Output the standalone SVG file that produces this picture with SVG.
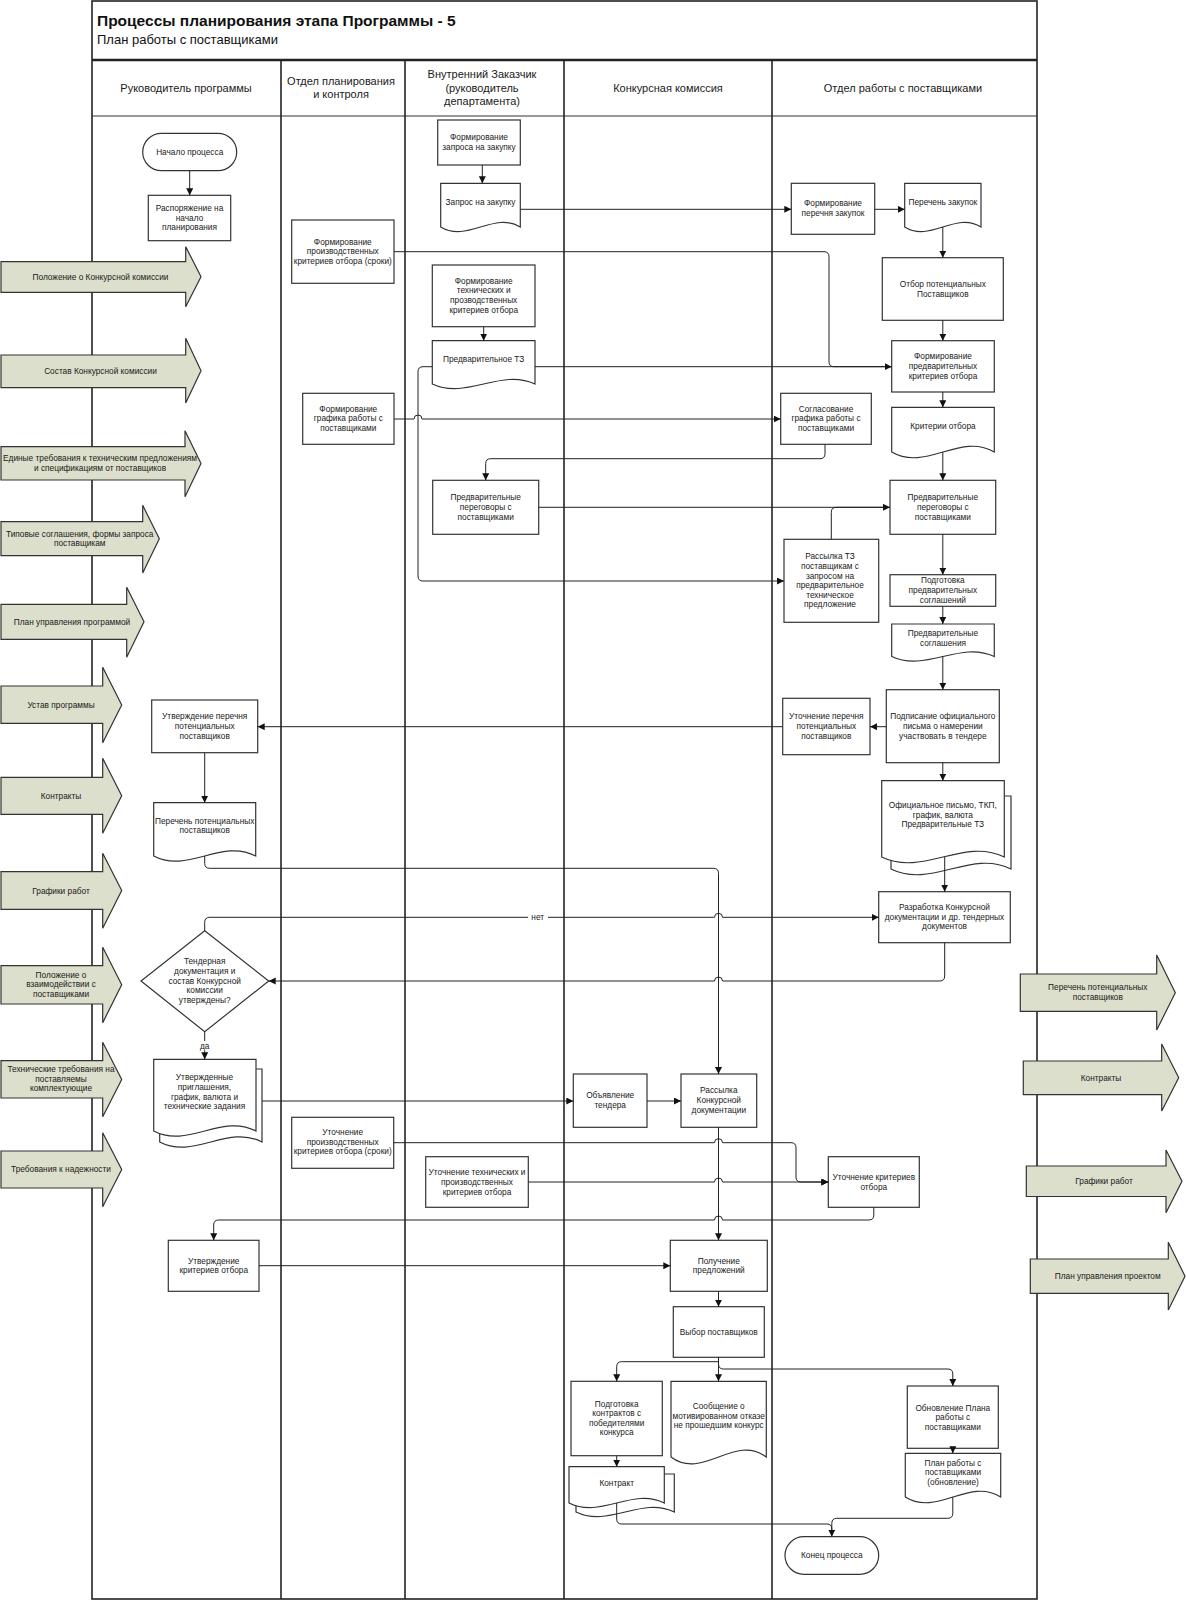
<svg xmlns="http://www.w3.org/2000/svg" width="1186" height="1600" viewBox="0 0 1186 1600">
<style>
.box{fill:#fff;stroke:#333;stroke-width:1.2}
.io{fill:#dcdfcb;stroke:#333;stroke-width:1.2}
.c{fill:none;stroke:#222;stroke-width:1}
.a{marker-end:url(#ah)}
.t{font-family:"Liberation Sans",Arial,sans-serif;font-size:8.3px;fill:#1a1a1a;text-anchor:middle;dominant-baseline:central}
.h{font-size:11px}
.ln{stroke:#222;stroke-width:1.6;fill:none}
.lbl{fill:#fff;stroke:none}
</style>
<defs>
<marker id="ah" markerWidth="8" markerHeight="8" refX="7" refY="3.5" orient="auto" markerUnits="userSpaceOnUse"><path d="M0,0 L7,3.5 L0,7 z" fill="#111"/></marker>
</defs>
<rect width="1186" height="1600" fill="#fff"/>

<g id="lanes">
<rect x="92" y="1" width="945" height="1598" class="ln"/>
<line x1="92" y1="60" x2="1037" y2="60" stroke="#222" stroke-width="2.5"/>
<line x1="92" y1="116" x2="1037" y2="116" stroke="#333" stroke-width="1"/>
<line x1="281" y1="60" x2="281" y2="1599" class="ln"/>
<line x1="405" y1="60" x2="405" y2="1599" class="ln"/>
<line x1="564" y1="60" x2="564" y2="1599" class="ln"/>
<line x1="772" y1="60" x2="772" y2="1599" class="ln"/>
<text x="97" y="26" font-family="Liberation Sans, Arial, sans-serif" font-size="15.5" font-weight="bold" fill="#111">Процессы планирования этапа Программы - 5</text>
<text x="97" y="44.3" font-family="Liberation Sans, Arial, sans-serif" font-size="13" fill="#111">План работы с поставщиками</text>
<text class="t h" x="186" y="87.7">Руководитель программы</text>
<text class="t h"><tspan x="341" y="81">Отдел планирования</tspan><tspan x="341" y="94">и контроля</tspan></text>
<text class="t h"><tspan x="482" y="74">Внутренний Заказчик</tspan><tspan x="482" y="87.7">(руководитель</tspan><tspan x="482" y="100.7">департамента)</tspan></text>
<text class="t h" x="668" y="87.7">Конкурсная комиссия</text>
<text class="t h" x="903" y="87.7">Отдел работы с поставщиками</text>
</g>

<g id="nodes">
<g id="n-start"><rect class="box" x="142.7" y="133.3" width="94" height="37.4" rx="18.7"/><text class="t" x="189.7" y="151.7">Начало процесса</text></g>
<g id="n-rasp"><rect class="box" x="148.3" y="195.3" width="82.4" height="45.4"/><text class="t"><tspan x="189.5" y="207.7">Распоряжение на</tspan><tspan x="189.5" y="217.7">начало</tspan><tspan x="189.5" y="227.3">планирования</tspan></text></g>
<g id="n-utv-perech"><rect class="box" x="151.7" y="700" width="106" height="52.7"/><text class="t"><tspan x="204.7" y="716">Утверждение перечня</tspan><tspan x="204.7" y="726">потенциальных</tspan><tspan x="204.7" y="735.7">поставщиков</tspan></text></g>
<g id="n-perech-pot"><path class="box" d="M153.7 802.7 H255.7 V856 C221.7 838 187.7 874 153.7 856 Z"/><text class="t"><tspan x="204.7" y="820.7">Перечень потенциальных</tspan><tspan x="204.7" y="830">поставщиков</tspan></text></g>
<g id="n-decision"><polygon class="box" points="204.7,930.7 268.7,981 204.7,1031.7 141,981"/><text class="t"><tspan x="204.7" y="961.3">Тендерная</tspan><tspan x="204.7" y="971">документация и</tspan><tspan x="204.7" y="980.7">состав Конкурсной</tspan><tspan x="204.7" y="990.3">комиссии</tspan><tspan x="204.7" y="1000.3">утверждены?</tspan></text></g>
<g id="n-utv-prigl"><path class="box" d="M159.7 1069 H262 V1142 C227.9 1124 193.8 1160 159.7 1142 Z"/><path class="box" d="M153.7 1059.3 H256 V1131 C221.9 1113 187.8 1149 153.7 1131 Z"/><text class="t"><tspan x="204.5" y="1077.3">Утвержденные</tspan><tspan x="204.5" y="1087">приглашения,</tspan><tspan x="204.5" y="1096.7">график, валюта и</tspan><tspan x="204.5" y="1106">технические задания</tspan></text></g>
<g id="n-utv-krit"><rect class="box" x="168.3" y="1240.3" width="90.7" height="51"/><text class="t"><tspan x="213.7" y="1261">Утверждение</tspan><tspan x="213.7" y="1270.3">критериев отбора</tspan></text></g>

<g id="n-form-proizv"><rect class="box" x="291.7" y="220" width="102.3" height="63.3"/><text class="t"><tspan x="342.8" y="241.7">Формирование</tspan><tspan x="342.8" y="251">производственных</tspan><tspan x="342.8" y="260.7">критериев отбора (сроки)</tspan></text></g>
<g id="n-form-graf"><rect class="box" x="302.7" y="393.3" width="91.3" height="51"/><text class="t"><tspan x="348.3" y="409">Формирование</tspan><tspan x="348.3" y="418.3">графика работы с</tspan><tspan x="348.3" y="428.3">поставщиками</tspan></text></g>
<g id="n-utoch-proizv"><rect class="box" x="291.7" y="1117.3" width="102" height="51"/><text class="t"><tspan x="342.7" y="1132.3">Уточнение</tspan><tspan x="342.7" y="1142">производственных</tspan><tspan x="342.7" y="1151.3">критериев отбора (сроки)</tspan></text></g>

<g id="n-form-zapr"><rect class="box" x="437.7" y="120" width="82.6" height="45"/><text class="t"><tspan x="479" y="137.3">Формирование</tspan><tspan x="479" y="147">запроса на закупку</tspan></text></g>
<g id="n-zapros"><path class="box" d="M440.7 183.3 H520.3 V227 C493.8 211 467.2 243 440.7 227 Z"/><text class="t" x="480.5" y="202">Запрос на закупку</text></g>
<g id="n-form-tech"><rect class="box" x="432.3" y="265" width="102.7" height="61.7"/><text class="t"><tspan x="483.7" y="280.7">Формирование</tspan><tspan x="483.7" y="290.3">технических и</tspan><tspan x="483.7" y="300">прозводственных</tspan><tspan x="483.7" y="309.7">критериев отбора</tspan></text></g>
<g id="n-tz"><path class="box" d="M432.3 340.7 H535 V384 C500.8 368 466.5 400 432.3 384 Z"/><text class="t" x="483.7" y="359.3">Предварительное ТЗ</text></g>
<g id="n-pereg-zak"><rect class="box" x="432.7" y="480.3" width="106" height="54"/><text class="t"><tspan x="485.7" y="497.3">Предварительные</tspan><tspan x="485.7" y="507">переговоры с</tspan><tspan x="485.7" y="516.7">поставщиками</tspan></text></g>
<g id="n-utoch-tech"><rect class="box" x="425.7" y="1156.7" width="102.6" height="50.6"/><text class="t"><tspan x="477" y="1172.3">Уточнение технических и</tspan><tspan x="477" y="1182">производственных</tspan><tspan x="477" y="1191.7">критериев отбора</tspan></text></g>

<g id="n-obyav"><rect class="box" x="573.3" y="1074" width="73.7" height="53.3"/><text class="t"><tspan x="610.2" y="1095.3">Объявление</tspan><tspan x="610.2" y="1105">тендера</tspan></text></g>
<g id="n-rass-kd"><rect class="box" x="681" y="1074" width="75.7" height="53.3"/><text class="t"><tspan x="718.8" y="1090.3">Рассылка</tspan><tspan x="718.8" y="1100">Конкурсной</tspan><tspan x="718.8" y="1109.7">документации</tspan></text></g>
<g id="n-poluch"><rect class="box" x="670.3" y="1240.3" width="97" height="51"/><text class="t"><tspan x="718.8" y="1260.7">Получение</tspan><tspan x="718.8" y="1270.3">предложений</tspan></text></g>
<g id="n-vybor"><rect class="box" x="673.3" y="1306.7" width="91" height="50.6"/><text class="t" x="718.8" y="1331.7">Выбор поставщиков</text></g>
<g id="n-podg-kontr"><rect class="box" x="571" y="1381.3" width="91.3" height="74.4"/><text class="t"><tspan x="616.7" y="1403.7">Подготовка</tspan><tspan x="616.7" y="1413.3">контрактов с</tspan><tspan x="616.7" y="1422.7">победителями</tspan><tspan x="616.7" y="1432.3">конкурса</tspan></text></g>
<g id="n-kontrakt"><path class="box" d="M576 1474 H674.3 V1512 C641.5 1496 608.8 1528 576 1512 Z"/><path class="box" d="M569 1466.7 H664.3 V1503 C632.5 1487 600.8 1519 569 1503 Z"/><text class="t" x="616.7" y="1482.7">Контракт</text></g>
<g id="n-soobsh"><path class="box" d="M671 1381.3 H766.3 V1457 C734.5 1433 702.8 1481 671 1457 Z"/><text class="t"><tspan x="718.7" y="1406">Сообщение о</tspan><tspan x="718.7" y="1415.7">мотивированном отказе</tspan><tspan x="718.7" y="1425.3">не прошедшим конкурс</tspan></text></g>

<g id="n-form-perech"><rect class="box" x="791.3" y="183.3" width="83.4" height="51"/><text class="t"><tspan x="833" y="203.3">Формирование</tspan><tspan x="833" y="213">перечня закупок</tspan></text></g>
<g id="n-perech-zak"><path class="box" d="M904.7 183.3 H981 V227 C955.6 211 930.1 243 904.7 227 Z"/><text class="t" x="942.8" y="202">Перечень закупок</text></g>
<g id="n-otbor"><rect class="box" x="882.3" y="257.7" width="121" height="62.6"/><text class="t"><tspan x="942.8" y="284">Отбор потенциальных</tspan><tspan x="942.8" y="293.7">Поставщиков</tspan></text></g>
<g id="n-form-pred"><rect class="box" x="891.7" y="340.7" width="102.6" height="51.3"/><text class="t"><tspan x="943" y="356.3">Формирование</tspan><tspan x="943" y="366">предварительных</tspan><tspan x="943" y="375.7">критериев отбора</tspan></text></g>
<g id="n-sogl-graf"><rect class="box" x="780.7" y="393.3" width="90.6" height="51"/><text class="t"><tspan x="826" y="409">Согласование</tspan><tspan x="826" y="418.3">графика работы с</tspan><tspan x="826" y="428">поставщиками</tspan></text></g>
<g id="n-krit"><path class="box" d="M891.7 407.3 H994.3 V452 C960.1 432 925.9 472 891.7 452 Z"/><text class="t" x="943" y="426.3">Критерии отбора</text></g>
<g id="n-pereg-post"><rect class="box" x="890" y="480.3" width="105.7" height="54"/><text class="t"><tspan x="942.8" y="497.3">Предварительные</tspan><tspan x="942.8" y="507">переговоры с</tspan><tspan x="942.8" y="516.7">поставщиками</tspan></text></g>
<g id="n-rass-tz"><rect class="box" x="784" y="539.3" width="94.7" height="83"/><text class="t"><tspan x="830" y="555.7">Рассылка ТЗ</tspan><tspan x="830" y="565.7">поставщикам с</tspan><tspan x="830" y="575.7">запросом на</tspan><tspan x="830" y="585.3">предварительное</tspan><tspan x="830" y="595">техническое</tspan><tspan x="830" y="604.3">предложение</tspan></text></g>
<g id="n-podg-sogl"><rect class="box" x="890" y="574.7" width="105.7" height="31.6"/><text class="t"><tspan x="942.8" y="580.3">Подготовка</tspan><tspan x="942.8" y="590">предварительных</tspan><tspan x="942.8" y="599.7">соглашений</tspan></text></g>
<g id="n-pred-sogl"><path class="box" d="M891.7 624 H994.3 V656.5 C960.1 640.5 925.9 672.5 891.7 656.5 Z"/><text class="t"><tspan x="943" y="633">Предварительные</tspan><tspan x="943" y="642.7">соглашения</tspan></text></g>
<g id="n-podpis"><rect class="box" x="886.3" y="689.7" width="113" height="73"/><text class="t"><tspan x="942.8" y="716">Подписание официального</tspan><tspan x="942.8" y="726">письма о намерении</tspan><tspan x="942.8" y="735.7">участвовать в тендере</tspan></text></g>
<g id="n-utoch-perech"><rect class="box" x="782.7" y="698.3" width="87.3" height="56.4"/><text class="t"><tspan x="826.3" y="716">Уточнение перечня</tspan><tspan x="826.3" y="726">потенциальных</tspan><tspan x="826.3" y="735.7">поставщиков</tspan></text></g>
<g id="n-ofic"><path class="box" d="M891 796 H1011 V869 C971 849 931 889 891 869 Z"/><path class="box" d="M881.7 780.7 H1004.3 V857 C963.4 837 922.6 877 881.7 857 Z"/><text class="t"><tspan x="942.8" y="805.3">Официальное письмо, ТКП,</tspan><tspan x="942.8" y="814.7">график, валюта</tspan><tspan x="942.8" y="824">Предварительные ТЗ</tspan></text></g>
<g id="n-razrab"><rect class="box" x="878.7" y="891.7" width="131.6" height="51"/><text class="t"><tspan x="944.5" y="907.3">Разработка Конкурсной</tspan><tspan x="944.5" y="917">документации и др. тендерных</tspan><tspan x="944.5" y="926.3">документов</tspan></text></g>
<g id="n-utoch-krit"><rect class="box" x="828.3" y="1156.7" width="91" height="50.6"/><text class="t"><tspan x="873.8" y="1177.3">Уточнение критериев</tspan><tspan x="873.8" y="1187">отбора</tspan></text></g>
<g id="n-obnov"><rect class="box" x="907.3" y="1386" width="91" height="62.3"/><text class="t"><tspan x="952.8" y="1407.7">Обновление Плана</tspan><tspan x="952.8" y="1417.3">работы с</tspan><tspan x="952.8" y="1427">поставщиками</tspan></text></g>
<g id="n-plan"><path class="box" d="M905.3 1453.3 H1000.7 V1497 C968.9 1477 937.1 1517 905.3 1497 Z"/><text class="t"><tspan x="953" y="1462.7">План работы с</tspan><tspan x="953" y="1472.3">поставщиками</tspan><tspan x="953" y="1482">(обновление)</tspan></text></g>
<g id="n-end"><rect class="box" x="785" y="1536.7" width="93.7" height="37.6" rx="18.8"/><text class="t" x="831.8" y="1555.3">Конец процесса</text></g>
</g>

<g id="connectors">
<path class="c a" d="M189.7 170.7 V195.3"/>
<path class="c a" d="M482.3 165 V183.3"/>
<path class="c a" d="M520.3 209.3 H791.3"/>
<path class="c a" d="M874.7 209.3 H904.7"/>
<path class="c a" d="M942.8 227 V257.7"/>
<path class="c a" d="M942.8 320.3 V340.7"/>
<path class="c" d="M394 251.7 H824 Q829 251.7 829 256.7 V361.7 Q829 366.7 834 366.7 H891.7"/>
<path class="c a" d="M483.7 326.7 V340.7"/>
<path class="c a" d="M535 366.7 H891.7"/>
<path class="c a" d="M432.3 366.7 H423 Q418 366.7 418 371.7 V576 Q418 581 423 581 H784"/>
<path class="c a" d="M942.8 392 V407.3"/>
<path class="c a" d="M394 419 H414 A4 4 0 0 1 422 419 H780.7"/>
<path class="c a" d="M825 444.3 V453.7 Q825 458.7 820 458.7 H490.7 Q485.7 458.7 485.7 463.7 V480.3"/>
<path class="c a" d="M942.8 452 V480.3"/>
<path class="c a" d="M538.7 507.3 H890"/>
<path class="c" d="M831.3 539.3 V512.3 Q831.3 507.3 836.3 507.3 H885"/>
<path class="c a" d="M942.8 534.3 V574.7"/>
<path class="c a" d="M942.8 606.3 V624"/>
<path class="c a" d="M942.8 656.5 V689.7"/>
<path class="c a" d="M886.3 726.7 H870"/>
<path class="c a" d="M782.7 726.7 H257.7"/>
<path class="c a" d="M204.7 752.7 V802.7"/>
<path class="c a" d="M942.8 762.7 V780.7"/>
<path class="c a" d="M944.7 857 V891.7"/>
<path class="c a" d="M204.7 856 V863.3 Q204.7 868.3 209.7 868.3 H713.5 Q718.5 868.3 718.5 873.3 V1074"/>
<path class="c a" d="M204.7 930.7 V922.3 Q204.7 917.3 209.7 917.3 H714.5 A4 4 0 0 1 722.5 917.3 H878.7"/>
<path class="c a" d="M944.7 942.7 V976 Q944.7 981 939.7 981 H722.5 A4 4 0 0 0 714.5 981 H268.7"/>
<path class="c a" d="M204.7 1031.7 V1059.3"/>
<path class="c a" d="M262 1101 H573.3"/>
<path class="c a" d="M647 1101 H681"/>
<path class="c a" d="M718.5 1127.3 V1240.3"/>
<path class="c a" d="M393.7 1142.7 H714.5 A4 4 0 0 1 722.5 1142.7 H791 Q796 1142.7 796 1147.7 V1177 Q796 1182 801 1182 H828.3"/>
<path class="c a" d="M528.3 1182 H714.5 A4 4 0 0 1 722.5 1182 H828.3"/>
<path class="c a" d="M873.8 1207.3 V1215 Q873.8 1220 868.8 1220 H722.5 A4 4 0 0 0 714.5 1220 H218.7 Q213.7 1220 213.7 1225 V1240.3"/>
<path class="c a" d="M259 1265.7 H670.3"/>
<path class="c a" d="M718.5 1291.3 V1306.7"/>
<path class="c a" d="M718.5 1357.3 V1361.7 H621.7 Q616.7 1361.7 616.7 1366.7 V1381.3"/>
<path class="c a" d="M718.5 1357.3 V1381.3"/>
<path class="c a" d="M718.5 1357.3 V1364 Q718.5 1369 723.5 1369 H947.8 Q952.8 1369 952.8 1374 V1386"/>
<path class="c a" d="M616.7 1455.7 V1466.7"/>
<path class="c" d="M616.7 1503 V1519 Q616.7 1524 621.7 1524 H826.8 Q831.8 1524 831.8 1529 V1530"/>
<path class="c a" d="M952.8 1497 V1513.3 Q952.8 1518.3 947.8 1518.3 H836.8 Q831.8 1518.3 831.8 1523.3 V1536.7"/>
<path class="c a" d="M952.8 1448.3 V1453.3"/>
<rect class="lbl" x="528" y="912" width="20" height="10"/>
<text class="t" x="537.7" y="917.3">нет</text>
<rect class="lbl" x="197" y="1041" width="16" height="10"/>
<text class="t" x="204.7" y="1045.7">да</text>
</g>

<g id="inputs">
<g id="in-1"><polygon class="io" points="1,261.7 185.7,261.7 185.7,246.7 201,276.7 185.7,306.7 185.7,292.3 1,292.3"/><text class="t" x="100.5" y="276.7">Положение о Конкурсной комиссии</text></g>
<g id="in-2"><polygon class="io" points="1,355 185.7,355 185.7,338.3 201,370.7 185.7,403 185.7,387.7 1,387.7"/><text class="t" x="100.5" y="370.7">Состав Конкурсной комиссии</text></g>
<g id="in-3"><polygon class="io" points="1,446.7 185,446.7 185,430.7 201,463.5 185,496.7 185,480 1,480"/><text class="t"><tspan x="100" y="458.3">Единые требования к техническим предложениям</tspan><tspan x="100" y="467.7">и спецификациям от поставщиков</tspan></text></g>
<g id="in-4"><polygon class="io" points="1,521.7 142.7,521.7 142.7,505.3 159.3,538.7 142.7,573 142.7,555.7 1,555.7"/><text class="t"><tspan x="79.7" y="534">Типовые соглашения, формы запроса</tspan><tspan x="79.7" y="543.3">поставщикам</tspan></text></g>
<g id="in-5"><polygon class="io" points="1,604.3 126.7,604.3 126.7,587.3 144,621.8 126.7,657.3 126.7,639.3 1,639.3"/><text class="t" x="72" y="621.7">План управления программой</text></g>
<g id="in-6"><polygon class="io" points="1,686 102.7,686 102.7,667.3 121.7,705 102.7,742.7 102.7,723.3 1,723.3"/><text class="t" x="61" y="705">Устав программы</text></g>
<g id="in-7"><polygon class="io" points="1,777.3 102.7,777.3 102.7,758.3 121.7,795.8 102.7,833.3 102.7,814.3 1,814.3"/><text class="t" x="61" y="795.8">Контракты</text></g>
<g id="in-8"><polygon class="io" points="1,871.7 102.7,871.7 102.7,853.3 121.7,890.5 102.7,928.3 102.7,909.3 1,909.3"/><text class="t" x="61" y="890.5">Графики работ</text></g>
<g id="in-9"><polygon class="io" points="1,965.7 102.7,965.7 102.7,947.3 121.7,984.8 102.7,1022.7 102.7,1004 1,1004"/><text class="t"><tspan x="61" y="974.7">Положение о</tspan><tspan x="61" y="984.3">взаимодействии с</tspan><tspan x="61" y="994">поставщиками</tspan></text></g>
<g id="in-10"><polygon class="io" points="1,1060.7 102.7,1060.7 102.7,1042.3 121.7,1079.4 102.7,1116.7 102.7,1098 1,1098"/><text class="t"><tspan x="61" y="1069.3">Технические требования на</tspan><tspan x="61" y="1078.7">поставляемы</tspan><tspan x="61" y="1088.3">комплектующие</tspan></text></g>
<g id="in-11"><polygon class="io" points="1,1151 102.7,1151 102.7,1132.7 121.7,1169.5 102.7,1206.7 102.7,1188 1,1188"/><text class="t" x="61" y="1169.3">Требования к надежности</text></g>
</g>

<g id="outputs">
<g id="out-1"><polygon class="io" points="1020.3,974 1156.7,974 1156.7,955 1175.3,992.7 1156.7,1030 1156.7,1011.3 1020.3,1011.3"/><text class="t"><tspan x="1097.8" y="987.3">Перечень потенциальных</tspan><tspan x="1097.8" y="997">поставщиков</tspan></text></g>
<g id="out-2"><polygon class="io" points="1023.3,1061 1161.7,1061 1161.7,1044 1178.7,1077.8 1161.7,1111 1161.7,1094.7 1023.3,1094.7"/><text class="t" x="1101" y="1077.5">Контракты</text></g>
<g id="out-3"><polygon class="io" points="1026.3,1166 1166,1166 1166,1150 1182,1181.3 1166,1212.7 1166,1196.5 1026.3,1196.5"/><text class="t" x="1104" y="1181.3">Графики работ</text></g>
<g id="out-4"><polygon class="io" points="1030.3,1259 1168.3,1259 1168.3,1242.3 1185,1276.2 1168.3,1310 1168.3,1293.3 1030.3,1293.3"/><text class="t" x="1107.7" y="1276.2">План управления проектом</text></g>
</g>
</svg>
